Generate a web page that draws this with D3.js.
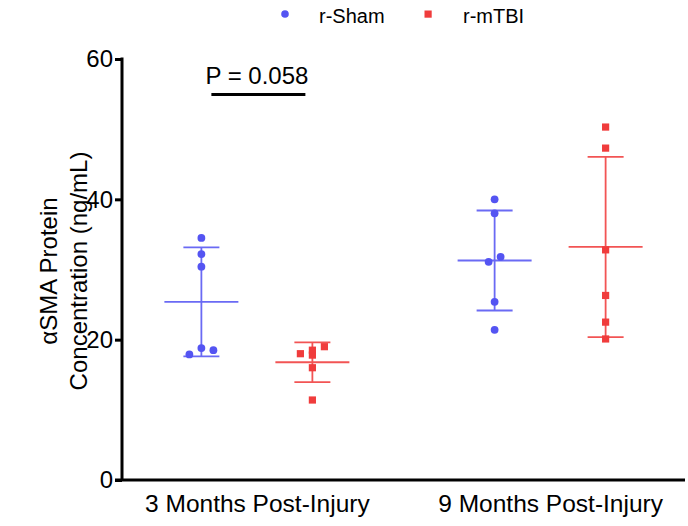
<!DOCTYPE html>
<html><head><meta charset="utf-8">
<script src="https://cdn.jsdelivr.net/npm/d3@7"></script>
<style>body{margin:0;background:#fff} text{font-family:"Liberation Sans",Arial,Helvetica,sans-serif}</style>
</head><body><svg id="c" width="688" height="526"></svg>
<script>
const timepoints = ["3 Months Post-Injury", "9 Months Post-Injury"];
const groups = ["r-Sham", "r-mTBI"];
const sham3 = [34.5, 32.2, 30.4, 17.9, 18.8, 18.5];
const tbi3  = [18.0, 18.5, 19.0, 17.8, 16.0, 11.4];
const sham9 = [40.0, 38.0, 31.1, 31.8, 25.4, 21.4];
const tbi9  = [50.3, 47.3, 32.8, 26.3, 22.5, 20.1];
const yTicks = [0, 20, 40, 60];
const yTitle = ["\u03B1SMA Protein", "Concentration (ng/mL)"];
const pLabel = "P = 0.058";

const series = [
  {tp: timepoints[0], g: groups[0], v: sham3},
  {tp: timepoints[0], g: groups[1], v: tbi3},
  {tp: timepoints[1], g: groups[0], v: sham9},
  {tp: timepoints[1], g: groups[1], v: tbi9}
];
const colors = {"r-Sham": "#5454f2", "r-mTBI": "#f03c3c"};
const lineColors = {"r-Sham": "#6a6af4", "r-mTBI": "#f25454"};

const svg = d3.select("#c");
const axL = 122, axR = 685, axB = 480, axT = 59;
const y = d3.scaleLinear().domain([0, 60]).range([axB, axT]);
const x = d3.scalePoint().domain(timepoints).range([axL, axR]).padding(0.46);
const xs = d3.scalePoint().domain(groups).range([-55.5, 55.5]);

// y axis
const yAxis = d3.axisLeft(y).tickValues(yTicks).tickSize(7).tickPadding(2).tickSizeOuter(0);
const gy = svg.append("g").attr("transform", `translate(${axL},0)`).call(yAxis);
gy.select(".domain").attr("stroke", "#000").attr("stroke-width", 3).attr("d", `M0,${axT - 1.5}V${axB}`);
gy.selectAll(".tick line").attr("stroke", "#000").attr("stroke-width", 3);
gy.selectAll(".tick text").attr("font-size", 24).attr("fill", "#000")
  .attr("font-family", '"Liberation Sans",Arial,sans-serif');

// x axis
const xAxis = d3.axisBottom(x).tickSize(0).tickPadding(15).tickSizeOuter(0);
const gx = svg.append("g").attr("transform", `translate(0,${axB})`).call(xAxis);
gx.select(".domain").attr("stroke", "#000").attr("stroke-width", 3).attr("d", `M${axL - 7},0H${axR}`);
gx.selectAll(".tick text").attr("font-size", 24.5).attr("fill", "#000")
  .attr("font-family", '"Liberation Sans",Arial,sans-serif').attr("dy", "0.71em");

// y title
const yt = svg.append("text").attr("transform", "translate(0,271) rotate(-90)")
  .attr("text-anchor", "middle").attr("font-size", 24).attr("fill", "#000");
yt.append("tspan").attr("x", 0).attr("y", 57).text(yTitle[0]);
yt.append("tspan").attr("x", 0).attr("y", 87).text(yTitle[1]);

// swarm offsets: group close values into rows, centre each row
function swarm(vals) {
  const idx = d3.range(vals.length).sort((a, b) => vals[b] - vals[a]);
  const rows = [];
  let cur = null;
  idx.forEach(i => {
    const py = y(vals[i]);
    if (cur && py - cur.y0 < 7.5) cur.items.push(i);
    else { cur = {y0: py, items: [i]}; rows.push(cur); }
  });
  const off = new Array(vals.length).fill(0);
  rows.forEach(r => {
    r.items.sort((a, b) => a - b);
    const n = r.items.length;
    r.items.forEach((i, k) => off[i] = (k - (n - 1) / 2) * 12);
  });
  return off;
}

series.forEach(s => {
  const cx = x(s.tp) + xs(s.g);
  const m = d3.mean(s.v), sd = d3.deviation(s.v);
  const lc = lineColors[s.g];
  const g = svg.append("g");
  g.append("line").attr("x1", cx).attr("x2", cx).attr("y1", y(m + sd)).attr("y2", y(m - sd))
    .attr("stroke", lc).attr("stroke-width", 1.8);
  g.append("line").attr("x1", cx - 37).attr("x2", cx + 37).attr("y1", y(m)).attr("y2", y(m))
    .attr("stroke", lc).attr("stroke-width", 1.8);
  [m + sd, m - sd].forEach(v => g.append("line").attr("x1", cx - 18).attr("x2", cx + 18)
    .attr("y1", y(v)).attr("y2", y(v)).attr("stroke", lc).attr("stroke-width", 1.8));
  const off = swarm(s.v);
  if (s.g === groups[0]) {
    g.selectAll("circle").data(s.v).join("circle")
      .attr("cx", (d, i) => cx + off[i]).attr("cy", d => y(d)).attr("r", 3.9)
      .attr("fill", colors[s.g]);
  } else {
    g.selectAll("rect").data(s.v).join("rect")
      .attr("x", (d, i) => cx + off[i] - 3.6).attr("y", d => y(d) - 3.6)
      .attr("width", 7.2).attr("height", 7.2).attr("fill", colors[s.g]);
  }
});

// significance annotation
const x3 = x(timepoints[0]);
svg.append("line").attr("x1", x3 + xs(groups[0]) + 10).attr("x2", x3 + xs(groups[1]) - 7)
  .attr("y1", 94.5).attr("y2", 94.5).attr("stroke", "#000").attr("stroke-width", 3);
svg.append("text").attr("x", x3).attr("y", 84).attr("text-anchor", "middle")
  .attr("font-size", 24).attr("fill", "#000").text(pLabel);

// legend
const leg = svg.append("g");
leg.append("circle").attr("cx", 285).attr("cy", 14).attr("r", 3.8).attr("fill", colors[groups[0]]);
leg.append("text").attr("x", 319).attr("y", 22.5).attr("font-size", 20).attr("fill", "#000").text(groups[0]);
leg.append("rect").attr("x", 424.5).attr("y", 10.5).attr("width", 7.2).attr("height", 7.2).attr("fill", colors[groups[1]]);
leg.append("text").attr("x", 463).attr("y", 22.5).attr("font-size", 20).attr("fill", "#000").text(groups[1]);
</script></body></html>
